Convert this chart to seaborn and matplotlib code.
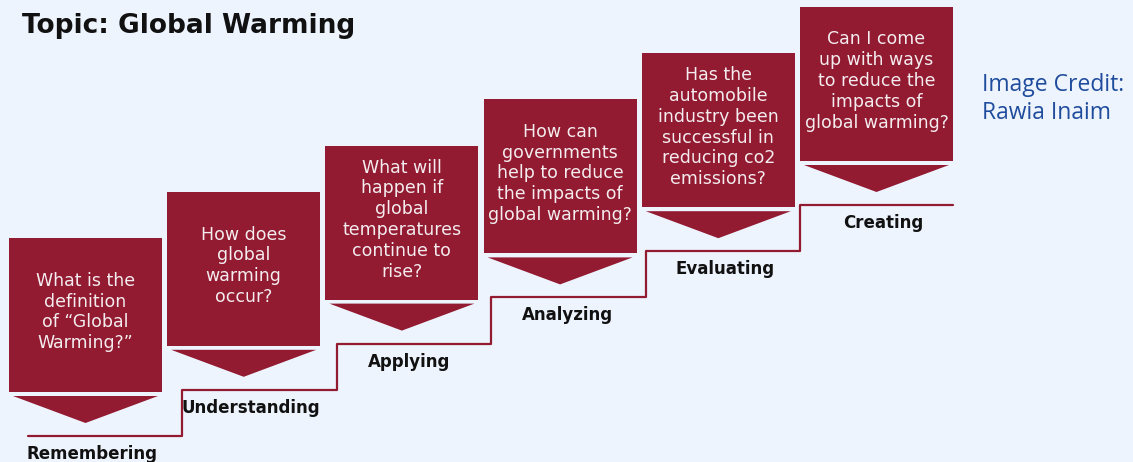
"""Bloom's taxonomy staircase: Global Warming questions"""
import matplotlib

matplotlib.use("Agg")
import numpy as np
import pandas as pd
import seaborn as sns
from matplotlib import pyplot as plt
from matplotlib.patches import Polygon, Rectangle

stages = ["Remembering", "Understanding", "Applying", "Analyzing", "Evaluating", "Creating"]
questions = [
    "What is the\ndefinition\nof \u201cGlobal\nWarming?\u201d",
    "How does\nglobal\nwarming\noccur?",
    "What will\nhappen if\nglobal\ntemperatures\ncontinue to\nrise?",
    "How can\ngovernments\nhelp to reduce\nthe impacts of\nglobal warming?",
    "Has the\nautomobile\nindustry been\nsuccessful in\nreducing co2\nemissions?",
    "Can I come\nup with ways\nto reduce the\nimpacts of\nglobal warming?",
]
title = "Topic: Global Warming"
credit = "Image Credit:\nRawia Inaim"

BG = "#EEF4FE"
MAROON = "#921A31"
NAVY = "#1F4C9C"

# layout in pixels (y grows downward)
W, H = 1133, 462
BOX_X0, BOX_Y0 = 9, 238
PITCH_X, PITCH_Y = 158.2, 46.2
BOX_W, BOX_H = 153, 154
ARROW_GAP, ARROW_D = 4, 27
LINE_DROP = 44
LINE_X0, LINE_X1 = 28, 953
RISER_X0, RISER_PITCH = 182, 154.5

sns.set_theme(style="white")
plt.rcParams["font.family"] = ["DejaVu Sans"]

fig = plt.figure(figsize=(W / 100, H / 100), dpi=100, facecolor=BG)
ax = fig.add_axes([0, 0, 1, 1])
ax.set_facecolor(BG)

n = len(stages)
left = BOX_X0 + PITCH_X * np.arange(n)
top = BOX_Y0 - PITCH_Y * np.arange(n)
bottom = top + BOX_H
line_y = bottom + LINE_DROP

# staircase path
px, py = [LINE_X0], [line_y[0]]
for i in range(1, n):
    rx = RISER_X0 + RISER_PITCH * (i - 1)
    px += [rx, rx]
    py += [line_y[i - 1], line_y[i]]
px.append(LINE_X1)
py.append(line_y[-1])
path = pd.DataFrame({"x": px, "y": py})
sns.lineplot(data=path, x="x", y="y", sort=False, estimator=None, color=MAROON,
             lw=1.6, ax=ax, zorder=1)
ax.set_xlim(0, W)
ax.set_ylim(H, 0)
ax.axis("off")

for i, (stage, q) in enumerate(zip(stages, questions)):
    x, y = left[i], top[i]
    ax.add_patch(Rectangle((x, y), BOX_W, BOX_H, facecolor=MAROON, edgecolor="none",
                           zorder=2))
    a_top = bottom[i] + ARROW_GAP
    ax.add_patch(Polygon(
        [(x + 4, a_top), (x + BOX_W - 4, a_top), (x + BOX_W / 2, a_top + ARROW_D)],
        closed=True, facecolor=MAROON, edgecolor="none", zorder=2))
    ax.text(x + BOX_W / 2, y + BOX_H / 2 - 3, q, color="#F4ECEE", ha="center",
            va="center", fontsize=12.5, linespacing=1.2, zorder=3)
    ax.text(x + BOX_W / 2 + 7, line_y[i] + 18, stage, color="#111111", ha="center",
            va="center", fontsize=12, fontweight="bold", zorder=3)

ax.text(22, 26, title, fontsize=19, fontweight="bold", color="#111111", va="center")
ax.text(982, 99, credit, fontsize=16.5, color=NAVY, va="center", linespacing=1.2,
        family=["Open Sans", "DejaVu Sans"])

fig.savefig("out.png", dpi=100, facecolor=BG)
